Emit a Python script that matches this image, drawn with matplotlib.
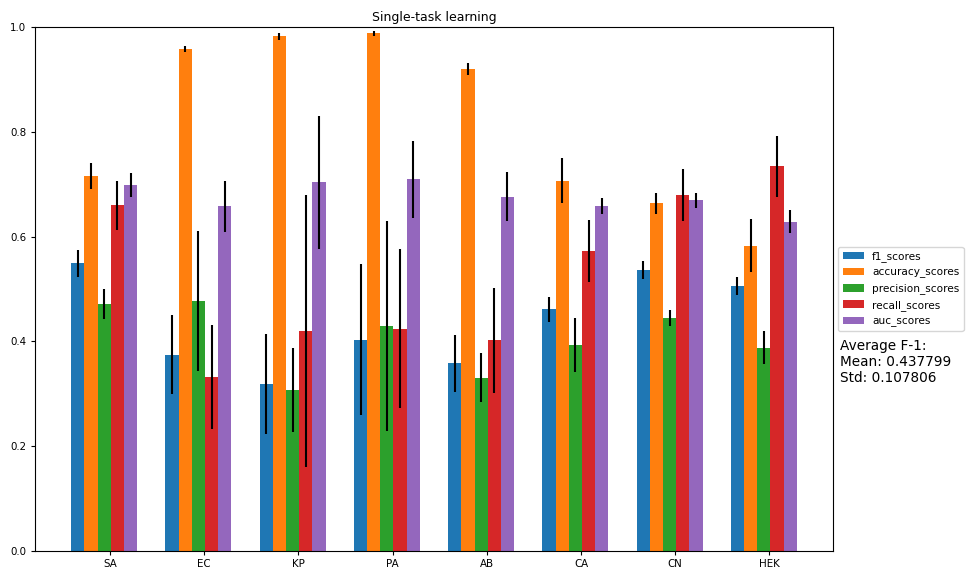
import numpy as np
import matplotlib
matplotlib.use("Agg")
import matplotlib.pyplot as plt

datasets = ["SA", "EC", "KP", "PA", "AB", "CA", "CN", "HEK"]
metric_names = ["f1_scores", "accuracy_scores", "precision_scores", "recall_scores", "auc_scores"]

f1_scores = [0.549, 0.375, 0.319, 0.403, 0.358, 0.461, 0.537, 0.505]
accuracy_scores = [0.715, 0.958, 0.982, 0.988, 0.920, 0.707, 0.664, 0.583]
precision_scores = [0.471, 0.477, 0.307, 0.429, 0.331, 0.393, 0.445, 0.388]
recall_scores = [0.660, 0.332, 0.420, 0.424, 0.402, 0.572, 0.679, 0.734]
auc_scores = [0.698, 0.658, 0.704, 0.709, 0.676, 0.658, 0.669, 0.628]

f1_std = [0.026, 0.076, 0.095, 0.144, 0.054, 0.024, 0.017, 0.017]
accuracy_std = [0.025, 0.006, 0.006, 0.005, 0.012, 0.043, 0.020, 0.050]
precision_std = [0.029, 0.133, 0.080, 0.200, 0.047, 0.051, 0.015, 0.032]
recall_std = [0.047, 0.100, 0.260, 0.152, 0.100, 0.059, 0.050, 0.058]
auc_std = [0.023, 0.049, 0.127, 0.074, 0.047, 0.015, 0.014, 0.022]

means = [f1_scores, accuracy_scores, precision_scores, recall_scores, auc_scores]
stds = [f1_std, accuracy_std, precision_std, recall_std, auc_std]

fig = plt.figure(figsize=(9.68, 5.72), dpi=100)
ax = fig.add_axes([35 / 968, 21 / 572, 798 / 968, 524 / 572])

x = np.arange(len(datasets))
width = 0.14
for i, (name, m, s) in enumerate(zip(metric_names, means, stds)):
    ax.bar(x + (i - 2.5) * width + 0.01, m, width, yerr=s, label=name,
           error_kw=dict(ecolor="black", elinewidth=1.5, capsize=0))

ax.set_ylim(0, 1.0)
ax.set_xticks(x)
ax.set_xticklabels(datasets, fontsize=7.4)
ax.tick_params(axis="y", labelsize=7.4)
ax.tick_params(length=2.6)
ax.set_title("Single-task learning", fontsize=9, pad=4)

ax.legend(loc="center left", bbox_to_anchor=(1.0, 0.5), fontsize=7.6)
ax.text(1.009, 0.405, "Average F-1:\nMean: %.6f\nStd: %.6f" % (0.437799, 0.107806),
        transform=ax.transAxes, fontsize=9.8, va="top", ha="left")

plt.savefig("out.png", dpi=100)
plt.close()
